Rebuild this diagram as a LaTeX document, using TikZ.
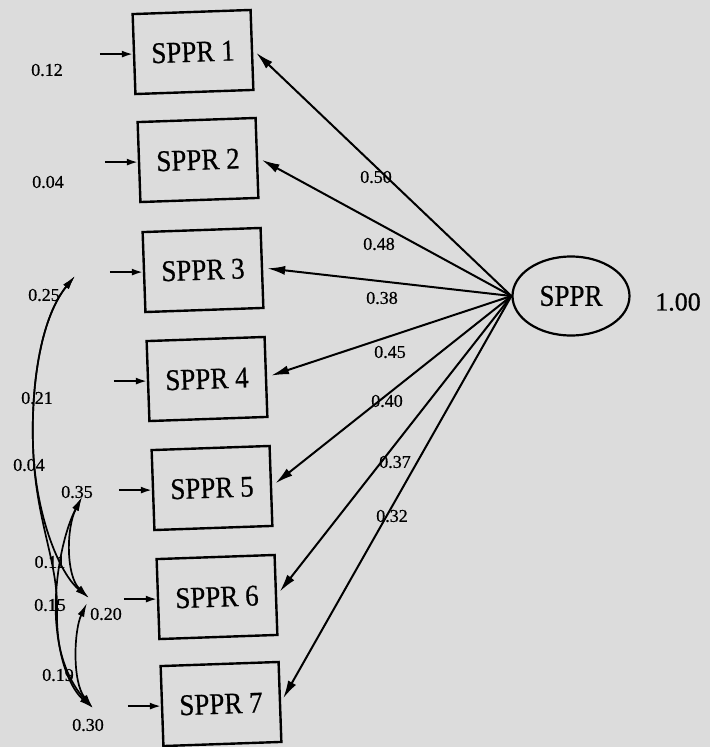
\documentclass[tikz,border=0pt]{standalone}
\usepackage{fontspec}
\setmainfont[FakeBold=0.6]{Liberation Serif}
\newfontfamily\boxfont[FakeStretch=0.9,FakeBold=0.6]{Liberation Serif}
\usetikzlibrary{arrows.meta,shapes.geometric}
\definecolor{bg}{HTML}{DCDCDC}
\begin{document}
\begin{tikzpicture}[x=1pt,y=-1pt,
  var/.style={draw, line width=2.4pt, minimum width=118pt, minimum height=80pt, inner sep=0pt, rotate=2, font=\boxfont\fontsize{30}{30}\selectfont},
  lat/.style={draw, ellipse, line width=2.2pt, minimum width=117pt, minimum height=79pt, inner sep=0pt, font=\boxfont\fontsize{30}{30}\selectfont},
  load/.style={line width=2pt, -{Latex[length=18pt,width=9pt]}, shorten >=4pt},
  err/.style={line width=1.8pt, -{Latex[length=11pt,width=7pt]}},
  cov/.style={line width=1.7pt, {Latex[length=14pt,width=7pt]}-{Latex[length=14pt,width=7pt]}},
  num/.style={font=\fontsize{18}{18}\selectfont, inner sep=0pt},
  big/.style={font=\fontsize{26}{26}\selectfont, inner sep=0pt}
]
\fill[bg] (0,0) rectangle (710,747);
\useasboundingbox (0,0) rectangle (710,747);

% observed variables
\node[var] (b1) at (193,52)  {SPPR 1};
\node[var] (b2) at (198,160) {SPPR 2};
\node[var] (b3) at (203,270) {SPPR 3};
\node[var] (b4) at (207,379) {SPPR 4};
\node[var] (b5) at (212,488) {SPPR 5};
\node[var] (b6) at (217,597) {SPPR 6};
\node[var] (b7) at (221,704) {SPPR 7};

% latent
\node[lat] (s) at (571,296) {SPPR};
\node[big] (v) at (678,302) {1.00};

% loadings
\draw[load] (s.west) -- (b1.east);
\draw[load] (s.west) -- (b2.east);
\draw[load] (s.west) -- (b3.east);
\draw[load] (s.west) -- (b4.east);
\draw[load] (s.west) -- (b5.east);
\draw[load] (s.west) -- (b6.east);
\draw[load] (s.west) -- (b7.east);

\node[num] (l1) at (376,177) {0.50};
\node[num] (l2) at (379,244) {0.48};
\node[num] (l3) at (382,298) {0.38};
\node[num] (l4) at (390,352) {0.45};
\node[num] (l5) at (387,401) {0.40};
\node[num] (l6) at (395,462) {0.37};
\node[num] (l7) at (392,516) {0.32};

% error arrows
\foreach \b in {b1,b2,b3,b4,b5,b6,b7}
  \draw[err] ([xshift=-33pt]\b.west) -- (\b.west);

% error variances
\node[num] (e1) at (47,70)  {0.12};
\node[num] (e2) at (48,182) {0.04};
\node[num] (e3) at (44,295) {0.25};
\node[num] (e5) at (77,492) {0.35};
\node[num] (e6) at (106,614) {0.20};
\node[num] (e7) at (88,725) {0.30};

% covariance end points
\coordinate (c3) at (75,276);
\coordinate (c5) at (82,497);
\coordinate (c6a) at (89,598);
\coordinate (c6b) at (87,603);
\coordinate (c7) at (93,708);

% covariances
\draw[cov] (c3) .. controls (42,316) and (31,380) .. (33,445) .. controls (35,512) and (58,572) .. (c6a);
\draw[cov] (c3) .. controls (42,316) and (31,380) .. (33,445) .. controls (35,520) and (58,560) .. (57,610) .. controls (56,660) and (72,690) .. (c7);
\draw[cov] (c5) .. controls (66,528) and (66,576) .. (c6a);
\draw[cov] (c5) .. controls (62,535) and (52,590) .. (57,630) .. controls (61,670) and (78,692) .. (c7);
\draw[cov] (c6b) .. controls (74,630) and (72,682) .. (c7);

\node[num] (k1) at (37,398) {0.21};
\node[num] (k2) at (29,465) {0.04};
\node[num] (k3) at (50,562) {0.11};
\node[num] (k4) at (50,605) {0.15};
\node[num] (k5) at (58,675) {0.19};
\end{tikzpicture}
\end{document}
